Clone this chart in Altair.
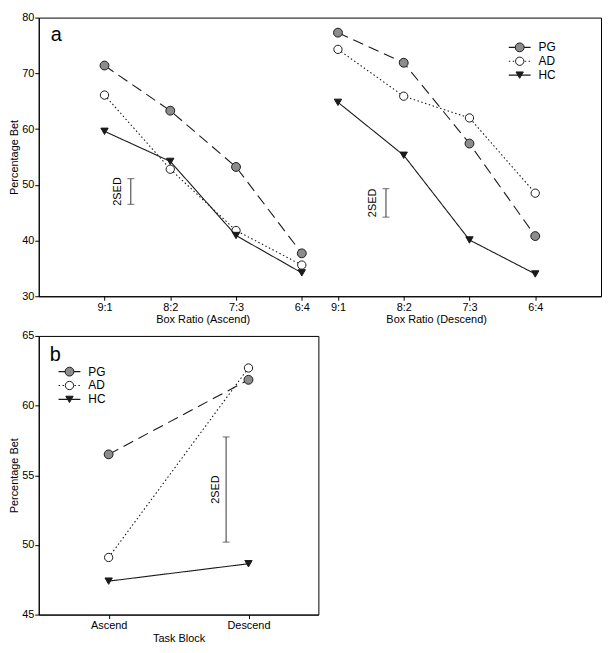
import altair as alt
import pandas as pd

# ---------------- data ----------------
groups = ["PG", "AD", "HC"]
ratio_labels = ["9:1", "8:2", "7:3", "6:4"]

# Panel a: percentage bet by box ratio (ascending block, then descending block)
asc_PG = [71.4, 63.3, 53.2, 37.7]
asc_AD = [66.1, 52.8, 41.8, 35.6]
asc_HC = [59.6, 54.2, 40.9, 34.2]
desc_PG = [77.3, 71.9, 57.4, 40.8]
desc_AD = [74.3, 65.9, 62.0, 48.5]
desc_HC = [64.8, 55.3, 40.1, 34.0]

# 2SED bars (panel a: ascend, descend)
sed_a_low = [46.5, 44.2]
sed_a_high = [51.1, 49.3]

# Panel b: percentage bet by task block
blocks = ["Ascend", "Descend"]
b_PG = [56.5, 61.85]
b_AD = [49.1, 62.7]
b_HC = [47.4, 48.65]
sed_b_low = [50.2]
sed_b_high = [57.75]

# ---------------- layout helpers ----------------
FONT = "Liberation Sans"
LINE = "#1a1a1a"
GRAY = "#8c8c8c"
asc_pos = [1, 2, 3, 4]
desc_pos = [4.55, 5.55, 6.55, 7.55]
sed_a_pos = [1.4, 5.28]

WA, HA = 567, 281
WB, HB = 282, 281

styles = {
    "PG": dict(dash=[11, 6], shape="circle", fill=GRAY, size=80),
    "AD": dict(dash=[1.5, 2.5], shape="circle", fill="white", size=70),
    "HC": dict(dash=[1, 0], shape="triangle-down", fill=LINE, size=55),
}

rows = []
for g, a_vals, d_vals in [("PG", asc_PG, desc_PG), ("AD", asc_AD, desc_AD), ("HC", asc_HC, desc_HC)]:
    for i, v in enumerate(a_vals):
        rows.append(dict(group=g, block="asc", pos=asc_pos[i], ratio=ratio_labels[i], value=v))
    for i, v in enumerate(d_vals):
        rows.append(dict(group=g, block="desc", pos=desc_pos[i], ratio=ratio_labels[i], value=v))
df_a = pd.DataFrame(rows)

rows_b = []
for g, vals in [("PG", b_PG), ("AD", b_AD), ("HC", b_HC)]:
    for i, v in enumerate(vals):
        rows_b.append(dict(group=g, block=blocks[i], value=v))
df_b = pd.DataFrame(rows_b)

tick_vals = asc_pos + desc_pos
label_arr = "[" + ",".join("'" + l + "'" for l in ratio_labels) + "]"
label_expr = (
    f"datum.value < 4.3 ? {label_arr}[round(datum.value - 1)] : "
    f"{label_arr}[round(datum.value - 4.55)]"
)

xa = alt.X("pos:Q", scale=alt.Scale(domain=[0, 8.55], nice=False, zero=False),
           axis=alt.Axis(values=tick_vals, labelExpr=label_expr, title=None, grid=False,
                         tickSize=4, labelPadding=1, labelFontSize=11))
ya = alt.Y("value:Q", scale=alt.Scale(domain=[30, 80], nice=False, zero=False),
           axis=alt.Axis(values=[30, 40, 50, 60, 70, 80], title="Percentage Bet", grid=False,
                         tickSize=4, labelPadding=1, titlePadding=2, titleFontSize=11,
                         titleFontWeight="normal", labelFontSize=11))


def series_layers(df, xenc, yenc, g):
    st = styles[g]
    sub = df[df.group == g]
    layers = []
    if set(sub.block) <= {"asc", "desc"}:
        parts = [sub[sub.block == "asc"], sub[sub.block == "desc"]]
    else:
        parts = [sub]
    for p in parts:
        layers.append(alt.Chart(p).mark_line(color=LINE, strokeWidth=1.1, strokeDash=st["dash"])
                      .encode(x=xenc, y=yenc))
    layers.append(alt.Chart(sub).mark_point(shape=st["shape"], filled=True, fill=st["fill"],
                                            stroke=LINE, strokeWidth=1, size=st["size"], opacity=1)
                  .encode(x=xenc, y=yenc))
    return layers


def legend_layers(x0, y0):
    out = []
    for i, g in enumerate(groups):
        st = styles[g]
        yy = y0 + 14 * i
        dash = [1.5, 2.5] if g == "AD" else [1, 0]
        one = pd.DataFrame({"g": [g]})
        out.append(alt.Chart(one).mark_rule(color=LINE, strokeWidth=1.1, strokeDash=dash)
                   .encode(x=alt.value(x0), x2=alt.value(x0 + 22), y=alt.value(yy)))
        out.append(alt.Chart(one).mark_point(shape=st["shape"], filled=True, fill=st["fill"],
                                             stroke=LINE, strokeWidth=1, size=st["size"], opacity=1)
                   .encode(x=alt.value(x0 + 11), y=alt.value(yy)))
        out.append(alt.Chart(one).mark_text(align="left", baseline="middle",
                                            font=FONT, fontSize=12, color="black")
                   .encode(x=alt.value(x0 + 30), y=alt.value(yy), text="g:N"))
    return out


# ----- panel a -----
sed_a = pd.DataFrame({"pos": sed_a_pos, "lo": sed_a_low, "hi": sed_a_high,
                      "mid": [(l + h) / 2 for l, h in zip(sed_a_low, sed_a_high)]})
layers_a = []
for g in groups:
    layers_a += series_layers(df_a, xa, ya, g)
layers_a.append(alt.Chart(sed_a).mark_rule(color="#333", strokeWidth=1).encode(x="pos:Q", y="lo:Q", y2="hi:Q"))
layers_a.append(alt.Chart(sed_a).mark_tick(orient="horizontal", size=7, thickness=1, color="#333")
                .encode(x="pos:Q", y="lo:Q"))
layers_a.append(alt.Chart(sed_a).mark_tick(orient="horizontal", size=7, thickness=1, color="#333")
                .encode(x="pos:Q", y="hi:Q"))
layers_a.append(alt.Chart(sed_a).mark_text(text="2SED", angle=270, dy=-13, font=FONT, fontSize=11,
                                           baseline="middle", align="center", color="black")
                .encode(x="pos:Q", y="mid:Q"))
titles_a = pd.DataFrame({"pos": [sum(asc_pos) / 4, sum(desc_pos) / 4],
                         "t": ["Box Ratio (Ascend)", "Box Ratio (Descend)"]})
layers_a.append(alt.Chart(titles_a).mark_text(font=FONT, fontSize=11, baseline="middle", color="black")
                .encode(x="pos:Q", text="t:N", y=alt.value(HA + 24)))
layers_a.append(alt.Chart(pd.DataFrame({"t": ["a"]})).mark_text(font=FONT, fontSize=20,
                                                                 align="left", baseline="middle", color="black")
                .encode(x=alt.value(12), y=alt.value(18), text="t:N"))
layers_a += legend_layers(WA - 93, 30)
panel_a = alt.layer(*layers_a).properties(width=WA, height=HA)

# ----- panel b -----
xb = alt.X("block:N", sort=blocks, scale=alt.Scale(type="point", padding=0.5),
           axis=alt.Axis(title="Task Block", labelAngle=0, grid=False, tickSize=4, labelPadding=1,
                         titlePadding=2, titleFontSize=11, titleFontWeight="normal", labelFontSize=11))
yb = alt.Y("value:Q", scale=alt.Scale(domain=[45, 65], nice=False, zero=False),
           axis=alt.Axis(values=[45, 50, 55, 60, 65], title="Percentage Bet", grid=False,
                         tickSize=4, labelPadding=1, titlePadding=2, titleFontSize=11,
                         titleFontWeight="normal", labelFontSize=11))
layers_b = []
for g in groups:
    layers_b += series_layers(df_b, xb, yb, g)
sed_b = pd.DataFrame({"lo": sed_b_low, "hi": sed_b_high,
                      "mid": [(l + h) / 2 for l, h in zip(sed_b_low, sed_b_high)]})
xsed = alt.value(WB * 0.67)
layers_b.append(alt.Chart(sed_b).mark_rule(color="#333", strokeWidth=1).encode(x=xsed, y=alt.Y("lo:Q"), y2="hi:Q"))
layers_b.append(alt.Chart(sed_b).mark_tick(orient="horizontal", size=7, thickness=1, color="#333")
                .encode(x=xsed, y="lo:Q"))
layers_b.append(alt.Chart(sed_b).mark_tick(orient="horizontal", size=7, thickness=1, color="#333")
                .encode(x=xsed, y="hi:Q"))
layers_b.append(alt.Chart(sed_b).mark_text(text="2SED", angle=270, dy=-10, font=FONT, fontSize=11,
                                           baseline="middle", align="center", color="black")
                .encode(x=xsed, y="mid:Q"))
layers_b.append(alt.Chart(pd.DataFrame({"t": ["b"]})).mark_text(font=FONT, fontSize=20,
                                                                 align="left", baseline="middle", color="black")
                .encode(x=alt.value(11), y=alt.value(19), text="t:N"))
layers_b += legend_layers(20, 36)
panel_b = alt.layer(*layers_b).properties(width=WB, height=HB)

chart = (
    alt.vconcat(panel_a, panel_b, spacing=3)
    .resolve_scale(x="independent", y="independent")
    .configure(font=FONT, padding=0)
    .configure_view(stroke="black", strokeWidth=1)
    .configure_axis(domainColor="black", tickColor="black", labelColor="black", titleColor="black",
                    labelFont=FONT, titleFont=FONT)
)

chart.save("out.html", embed_options={"renderer": "svg", "actions": False})
